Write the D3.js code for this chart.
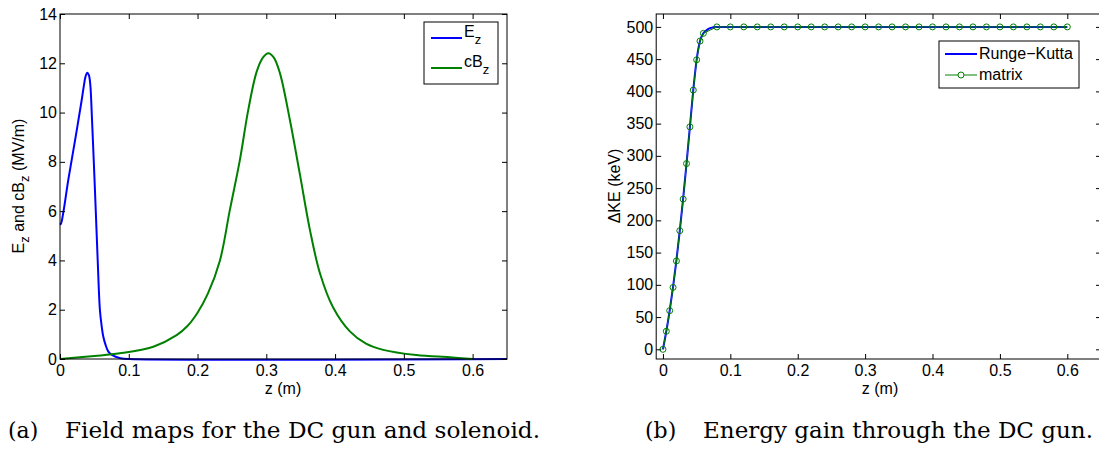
<!DOCTYPE html>
<html>
<head>
<meta charset="utf-8">
<script src="https://cdn.jsdelivr.net/npm/d3@7"></script>
<style>
  body { margin: 0; background: #fff; }
  svg { display: block; }
  text { font-family: "Liberation Sans", Arial, sans-serif; }
  .cap { font-family: "DejaVu Serif", "Liberation Serif", serif; }
</style>
</head>
<body>
<svg id="chart" width="1099" height="452"></svg>
<script>
// (a) field maps
const ezZ = [0, 0.0015, 0.005, 0.012, 0.022, 0.0315, 0.0345, 0.037, 0.0397, 0.042, 0.044, 0.0465, 0.051, 0.0548, 0.058, 0.0605, 0.063, 0.0665, 0.0703, 0.075, 0.08, 0.088, 0.1, 0.65]
const ezV = [5.45, 5.5, 5.98, 7.26, 8.89, 10.5, 11.05, 11.45, 11.62, 11.52, 11.15, 9.75, 6.72, 4.02, 2.0, 1.35, 0.9, 0.55, 0.3, 0.17, 0.1, 0.03, 0, 0]

const bzZ = [0, 0.05, 0.087, 0.1357, 0.1696, 0.185, 0.2, 0.215, 0.2326, 0.247, 0.2616, 0.2737, 0.2859, 0.295, 0.303, 0.311, 0.3198, 0.3343, 0.3488, 0.3634, 0.378, 0.397, 0.4215, 0.445, 0.47, 0.518, 0.567, 0.6]
const bzV = [0, 0.12, 0.23, 0.5, 0.97, 1.33, 1.88, 2.65, 4.0, 6.05, 8.08, 10.1, 11.65, 12.23, 12.41, 12.23, 11.6, 9.7, 7.5, 5.24, 3.48, 2.1, 1.12, 0.62, 0.37, 0.16, 0.07, 0]

const leftXTicks = [0, 0.1, 0.2, 0.3, 0.4, 0.5, 0.6]
const leftYTicks = [0, 2, 4, 6, 8, 10, 12, 14]

// (b) energy gain
const rkZ = [0, 0.005, 0.01, 0.015, 0.02, 0.025, 0.03, 0.035, 0.04, 0.045, 0.05, 0.055, 0.06, 0.065, 0.07, 0.08, 0.1, 0.6]
const rkKE = [0, 28, 60, 97, 138, 184, 234, 288, 345, 402, 449, 478, 490, 495, 498, 500, 500, 500]

const mxZ = [0, 0.005, 0.01, 0.015, 0.02, 0.025, 0.03, 0.035, 0.04, 0.045, 0.05, 0.055, 0.06,
  0.08, 0.1, 0.12, 0.14, 0.16, 0.18, 0.2, 0.22, 0.24, 0.26, 0.28, 0.3, 0.32, 0.34, 0.36, 0.38,
  0.4, 0.42, 0.44, 0.46, 0.48, 0.5, 0.52, 0.54, 0.56, 0.58, 0.6]
const mxKE = [0, 28, 60, 96, 137, 184, 233, 288, 345, 402, 449, 478, 490,
  500, 500, 500, 500, 500, 500, 500, 500, 500, 500, 500, 500, 500, 500, 500, 500,
  500, 500, 500, 500, 500, 500, 500, 500, 500, 500, 500]

const rightXTicks = [0, 0.1, 0.2, 0.3, 0.4, 0.5, 0.6]
const rightYTicks = [0, 50, 100, 150, 200, 250, 300, 350, 400, 450, 500]

const blue = '#0000ff'
const green = '#008000'
const fs = 16

const svg = d3.select('#chart')

function zip(a, b) {
  return a.map((d, i) => [d, b[i]])
}

// matlab style box with inward ticks on all sides
function box(g, x, y, xt, yt, fmtX, fmtY) {
  const [x0, x1] = x.range()
  const [y0, y1] = y.range()
  const tl = 5

  g.append('g')
    .attr('transform', `translate(0,${y0})`)
    .call(d3.axisBottom(x).tickValues(xt).tickSize(-tl).tickPadding(6).tickFormat(fmtX))
    .call(a => a.select('.domain').remove())
  g.append('g')
    .attr('transform', `translate(0,${y1})`)
    .call(d3.axisTop(x).tickValues(xt).tickSize(-tl).tickFormat(''))
    .call(a => a.select('.domain').remove())
  g.append('g')
    .attr('transform', `translate(${x0},0)`)
    .call(d3.axisLeft(y).tickValues(yt).tickSize(-tl).tickPadding(3).tickFormat(fmtY))
    .call(a => a.select('.domain').remove())
  g.append('g')
    .attr('transform', `translate(${x1},0)`)
    .call(d3.axisRight(y).tickValues(yt).tickSize(-tl).tickFormat(''))
    .call(a => a.select('.domain').remove())

  g.selectAll('.tick line').attr('stroke', '#000')
  g.selectAll('.tick text').attr('font-size', fs).attr('fill', '#000')
    .style('font-family', '"Liberation Sans", Arial, sans-serif')

  g.append('rect')
    .attr('x', x0).attr('y', y1)
    .attr('width', x1 - x0).attr('height', y0 - y1)
    .attr('fill', 'none').attr('stroke', '#000').attr('stroke-width', 1)
}

// ---- left panel
const xL = d3.scaleLinear().domain([0, 0.65]).range([60, 507])
const yL = d3.scaleLinear().domain([0, 14]).range([359, 14])
const gL = svg.append('g')

const lineL = d3.line().x(d => xL(d[0])).y(d => yL(d[1])).curve(d3.curveCatmullRom.alpha(0.5))

gL.append('path').datum(zip(ezZ, ezV))
  .attr('d', lineL).attr('fill', 'none').attr('stroke', blue).attr('stroke-width', 2)
gL.append('path').datum(zip(bzZ, bzV))
  .attr('d', lineL).attr('fill', 'none').attr('stroke', green).attr('stroke-width', 2)

box(gL, xL, yL, leftXTicks, leftYTicks, d => d === 0 ? '0' : d3.format('.1f')(d), d3.format('d'))

gL.append('text')
  .attr('x', 283).attr('y', 394)
  .attr('text-anchor', 'middle').attr('font-size', fs)
  .text('z (m)')

const ylab = gL.append('text')
  .attr('transform', 'translate(24,186) rotate(-90)')
  .attr('text-anchor', 'middle').attr('font-size', fs)
ylab.append('tspan').text('E')
ylab.append('tspan').attr('dy', 5).attr('font-size', 13).text('z')
ylab.append('tspan').attr('dy', -5).text(' and  cB')
ylab.append('tspan').attr('dy', 5).attr('font-size', 13).text('z')
ylab.append('tspan').attr('dy', -5).text(' (MV/m)')

// legend left
const lgL = gL.append('g')
lgL.append('rect').attr('x', 424).attr('y', 22).attr('width', 74).attr('height', 62)
  .attr('fill', '#fff').attr('stroke', '#000')
const legL = [{ name: 'E', c: blue, y: 38 }, { name: 'cB', c: green, y: 68 }]
legL.forEach(d => {
  lgL.append('line').attr('x1', 431).attr('x2', 462).attr('y1', d.y).attr('y2', d.y)
    .attr('stroke', d.c).attr('stroke-width', 2)
  const t = lgL.append('text').attr('x', 464).attr('y', d.y - 1).attr('font-size', fs)
  t.append('tspan').text(d.name)
  t.append('tspan').attr('dy', 7).attr('font-size', 13).text('z')
})

// ---- right panel
const xR = d3.scaleLinear().domain([-0.01, 0.65]).range([656.2, 1101])
const yR = d3.scaleLinear().domain([-15, 520]).range([359, 14])
const gR = svg.append('g')

gR.append('path').datum(zip(rkZ, rkKE))
  .attr('d', d3.line().x(d => xR(d[0])).y(d => yR(d[1])).curve(d3.curveMonotoneX))
  .attr('fill', 'none').attr('stroke', blue).attr('stroke-width', 2)
gR.append('path').datum(zip(mxZ, mxKE))
  .attr('d', d3.line().x(d => xR(d[0])).y(d => yR(d[1])))
  .attr('fill', 'none').attr('stroke', green).attr('stroke-width', 1)
gR.append('g').selectAll('circle')
  .data(zip(mxZ, mxKE))
  .join('circle')
    .attr('cx', d => xR(d[0])).attr('cy', d => yR(d[1])).attr('r', 3)
    .attr('fill', 'none').attr('stroke', green).attr('stroke-width', 1)

box(gR, xR, yR, rightXTicks, rightYTicks, d => d === 0 ? '0' : d3.format('.1f')(d), d3.format('d'))

gR.append('text')
  .attr('x', 880).attr('y', 394)
  .attr('text-anchor', 'middle').attr('font-size', fs)
  .text('z (m)')
gR.append('text')
  .attr('transform', 'translate(620,186) rotate(-90)')
  .attr('text-anchor', 'middle').attr('font-size', fs)
  .text('ΔKE (keV)')

// legend right
const lgR = gR.append('g')
lgR.append('rect').attr('x', 939).attr('y', 41).attr('width', 140).attr('height', 47)
  .attr('fill', '#fff').attr('stroke', '#000')
lgR.append('line').attr('x1', 945).attr('x2', 977).attr('y1', 54).attr('y2', 54)
  .attr('stroke', blue).attr('stroke-width', 2)
lgR.append('text').attr('x', 979).attr('y', 59).attr('font-size', fs).text('Runge−Kutta')
lgR.append('line').attr('x1', 945).attr('x2', 977).attr('y1', 75).attr('y2', 75)
  .attr('stroke', green).attr('stroke-width', 1)
lgR.append('circle').attr('cx', 961).attr('cy', 75).attr('r', 3)
  .attr('fill', '#fff').attr('stroke', green)
lgR.append('text').attr('x', 979).attr('y', 80).attr('font-size', fs).text('matrix')

// captions
const captions = [
  { tag: '(a)', x: 8, text: 'Field maps for the DC gun and solenoid.', tx: 65, w: 475 },
  { tag: '(b)', x: 645, text: 'Energy gain through the DC gun.', tx: 703, w: 390 }
]
captions.forEach(c => {
  svg.append('text').attr('class', 'cap').attr('x', c.x).attr('y', 438).attr('font-size', 22)
    .text(c.tag)
  svg.append('text').attr('class', 'cap').attr('x', c.tx).attr('y', 438).attr('font-size', 22)
    .attr('textLength', c.w).attr('lengthAdjust', 'spacingAndGlyphs')
    .text(c.text)
})
</script>
</body>
</html>
